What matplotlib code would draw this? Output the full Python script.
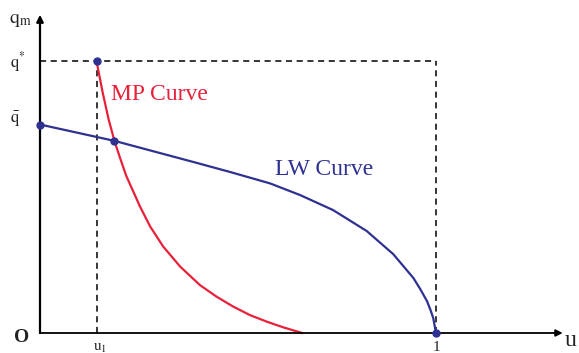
import matplotlib.pyplot as plt

## points (u, q_m), q* taken as 1
lw_u = [0.0, 0.189, 0.379, 0.480, 0.581, 0.657, 0.740, 0.825, 0.892,
        0.943, 0.960, 0.977, 0.986, 0.993, 1.0]
lw_q = [0.7665, 0.706, 0.632, 0.592, 0.550, 0.507, 0.452, 0.375, 0.290,
        0.202, 0.162, 0.118, 0.085, 0.055, 0.0]

mp_u = [0.1427, 0.158, 0.173, 0.188, 0.203, 0.218, 0.235, 0.2525, 0.278,
        0.311, 0.354, 0.404, 0.446, 0.488, 0.530, 0.573, 0.614, 0.662]
mp_q = [1.0, 0.886, 0.787, 0.706, 0.640, 0.577, 0.522, 0.465, 0.392,
        0.318, 0.244, 0.176, 0.1335, 0.097, 0.066, 0.0415, 0.021, 0.0]

u1 = 0.1427
q_star = 1.0
q_bar = 0.7665
cross = (0.188, 0.706)

RED = "#e8203a"
BLUE = "#2e3192"
INK = "#222222"

plt.rcParams["font.family"] = ["Liberation Serif", "DejaVu Serif"]
plt.rcParams["mathtext.fontset"] = "stix"

fig = plt.figure(figsize=(5.79, 3.53), dpi=100)
ax = fig.add_axes([0, 0, 1, 1])
ax.set_xlim(-40 / 396, 539 / 396)
ax.set_ylim(-20 / 272, 333 / 272)
ax.axis("off")

# axes with arrows
ax.annotate("", xy=(0, 1.17), xytext=(0, 0),
            arrowprops=dict(arrowstyle="-|>", color="black", lw=1.6,
                            mutation_scale=10, shrinkA=0, shrinkB=0))
ax.annotate("", xy=(1.32, 0), xytext=(0, 0),
            arrowprops=dict(arrowstyle="-|>", color="black", lw=1.3,
                            mutation_scale=10, shrinkA=0, shrinkB=0))

# dashed guides
dash = (0, (4, 3))
ax.plot([0, 1], [q_star, q_star], ls=dash, color="black", lw=1.1)
ax.plot([1, 1], [0, q_star], ls=dash, color="black", lw=1.1)
ax.plot([u1, u1], [0, q_star], ls=dash, color="black", lw=1.1)

# curves
ax.plot(lw_u, lw_q, color=BLUE, lw=1.6, solid_joinstyle="round")
ax.plot(mp_u, mp_q, color=RED, lw=1.6, solid_joinstyle="round")

# points
ax.plot([u1, 0, cross[0], 1], [q_star, q_bar, cross[1], 0], "o",
        color=BLUE, ms=5, zorder=5)

# labels
ax.text(0.179, 0.857, "MP Curve", color=RED, fontsize=17,
        va="baseline", ha="left")
ax.text(0.593, 0.581, "LW Curve", color=BLUE, fontsize=17,
        va="baseline", ha="left")

ax.text(-0.078, 1.15, r"$\mathrm{q}_{\mathrm{m}}$", color=INK, fontsize=14,
        va="center", ha="left")
ax.text(-0.075, q_star - 0.005, r"$\mathrm{q}^{*}$", color=INK, fontsize=12,
        va="center", ha="left")
ax.text(-0.077, q_bar + 0.02, r"$\bar{\mathrm{q}}$", color=INK, fontsize=12,
        va="center", ha="left")
ax.text(-0.047, -0.018, "O", color=INK, fontsize=14, va="center",
        ha="center", fontweight="bold")
ax.text(u1 + 0.008, -0.055, r"$\mathrm{u}_{1}$", color=INK, fontsize=11,
        va="center", ha="center")
ax.text(1.0, -0.055, "1", color=INK, fontsize=11, va="center", ha="center")
ax.text(1.341, -0.026, "u", color=INK, fontsize=17, va="center", ha="center")

fig.savefig("out.png", dpi=100)
